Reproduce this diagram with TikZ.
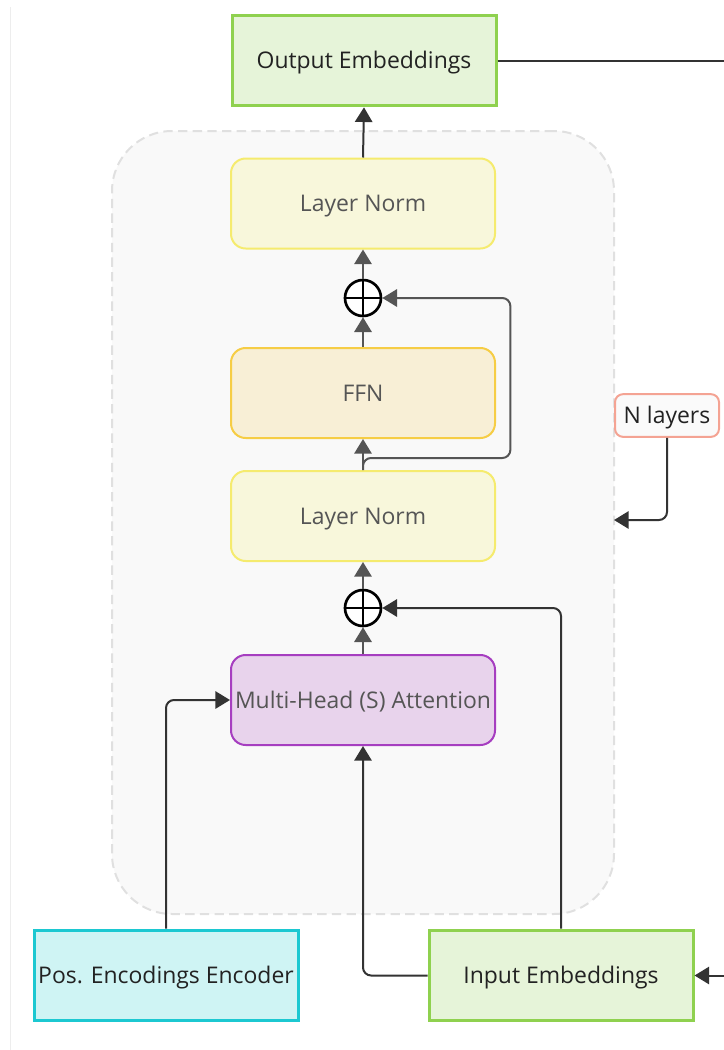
\documentclass[tikz,border=0pt]{standalone}
\usepackage{fontspec}
\setmainfont{Open Sans}
\usetikzlibrary{arrows.meta,calc}

\definecolor{greenfill}{HTML}{E6F4D9}
\definecolor{greenline}{HTML}{8FD14F}
\definecolor{cyanfill}{HTML}{CFF4F4}
\definecolor{cyanline}{HTML}{1CC8D1}
\definecolor{normfill}{HTML}{F8F7DB}
\definecolor{normline}{HTML}{F5EB6E}
\definecolor{ffnfill}{HTML}{F8EFD6}
\definecolor{ffnline}{HTML}{F6CD45}
\definecolor{attnfill}{HTML}{E8D3EC}
\definecolor{attnline}{HTML}{A63EC0}
\definecolor{tagline}{HTML}{F4A393}
\definecolor{clusterfill}{HTML}{F9F9F9}
\definecolor{clusterline}{HTML}{E0E0E0}
\definecolor{edgegray}{HTML}{555555}
\definecolor{edgedark}{HTML}{333333}
\definecolor{textdark}{HTML}{222222}
\definecolor{textgray}{HTML}{555555}

\begin{document}
\begin{tikzpicture}[x=0.75pt,y=-0.75pt,
  labelfont/.style={font=\fontsize{17.2}{20}\selectfont, text height=17pt, text depth=4.5pt},
  plainbox/.style={labelfont, minimum width=198pt, minimum height=68pt,
    inner sep=0pt, line width=2.25pt, text=textdark},
  softbox/.style={labelfont, minimum width=198pt, minimum height=67.5pt,
    inner sep=0pt, line width=1.5pt, rounded corners=11pt, text=textgray},
  sumnode/.style={circle, draw=black, fill=white, line width=2pt,
    minimum size=27pt, inner sep=0pt},
  arr/.style={-{Triangle[length=11pt,width=13pt]}, line width=1.5pt,
    draw=edgegray, rounded corners=6pt},
  darkarr/.style={arr, draw=edgedark},
  darkline/.style={line width=1.5pt, draw=edgedark, rounded corners=6pt}]

\useasboundingbox (0,0) rectangle (724,1050);

% page edge
\draw[line width=0.75pt, draw=black!7] (10,7) -- (10,1050);

% repeated block
\node[draw=clusterline, fill=clusterfill, dash pattern=on 7pt off 4pt,
  line width=1.5pt, rounded corners=45pt, minimum width=376.5pt,
  minimum height=587.25pt, inner sep=0pt] (cluster) at (363,522.5) {};

% boxes
\node[plainbox, draw=greenline, fill=greenfill] (out) at (364,60.5) {Output Embeddings};
\node[softbox, draw=normline, fill=normfill] (ln1) at (363,203.5) {Layer Norm};
\node[sumnode] (p1) at (363,298) {};
\node[softbox, draw=ffnline, fill=ffnfill] (ffn) at (363,393) {FFN};
\node[softbox, draw=normline, fill=normfill] (ln2) at (363,516) {Layer Norm};
\node[sumnode] (p2) at (363,608) {};
\node[softbox, draw=attnline, fill=attnfill] (mha) at (363,700) {Multi-Head (S) Attention};
\node[plainbox, draw=cyanline, fill=cyanfill] (pos) at (166,975.5) {Pos. Encodings Encoder};
\node[plainbox, draw=greenline, fill=greenfill] (inp) at (561,975.5) {Input Embeddings};
\node[labelfont, draw=tagline, fill=white!98!black, line width=1.5pt,
  rounded corners=6pt, minimum width=78pt, minimum height=32pt, inner sep=0pt,
  text=textdark] (nl) at (667,415.5) {N layers};

% plus signs inside the sum nodes
\foreach \p in {p1,p2}{
  \draw[line width=2pt] (\p.north) -- (\p.south);
  \draw[line width=2pt] (\p.west) -- (\p.east);
}

% free ends at the right margin
\coordinate (outR) at (724,60.5);
\coordinate (inR) at (724,975.5);
\coordinate (blockR) at (614,520);

% connectors
\draw[darkline] (out.east) -- (outR);
\draw[darkarr] (ln1.north) -- (out.south);
\draw[arr] (p1.north) -- (ln1.south);
\draw[arr] (ffn.north) -- (p1.south);
\draw[arr] (ln2.north) -- (ffn.south);
\draw[arr] (ln2.north) -- ++(0,-12) -| ($(p1.east)+(128,0)$) -- (p1.east);
\draw[arr] (p2.north) -- (ln2.south);
\draw[arr] (mha.north) -- (p2.south);
\draw[darkarr] (inp.north) |- (p2.east);
\draw[darkarr] (inp.west) -| (mha.south);
\draw[darkarr] (pos.north) |- (mha.west);
\draw[darkarr] (inR) -- (inp.east);
\draw[darkarr] (nl.south) |- (blockR);

\end{tikzpicture}
\end{document}
